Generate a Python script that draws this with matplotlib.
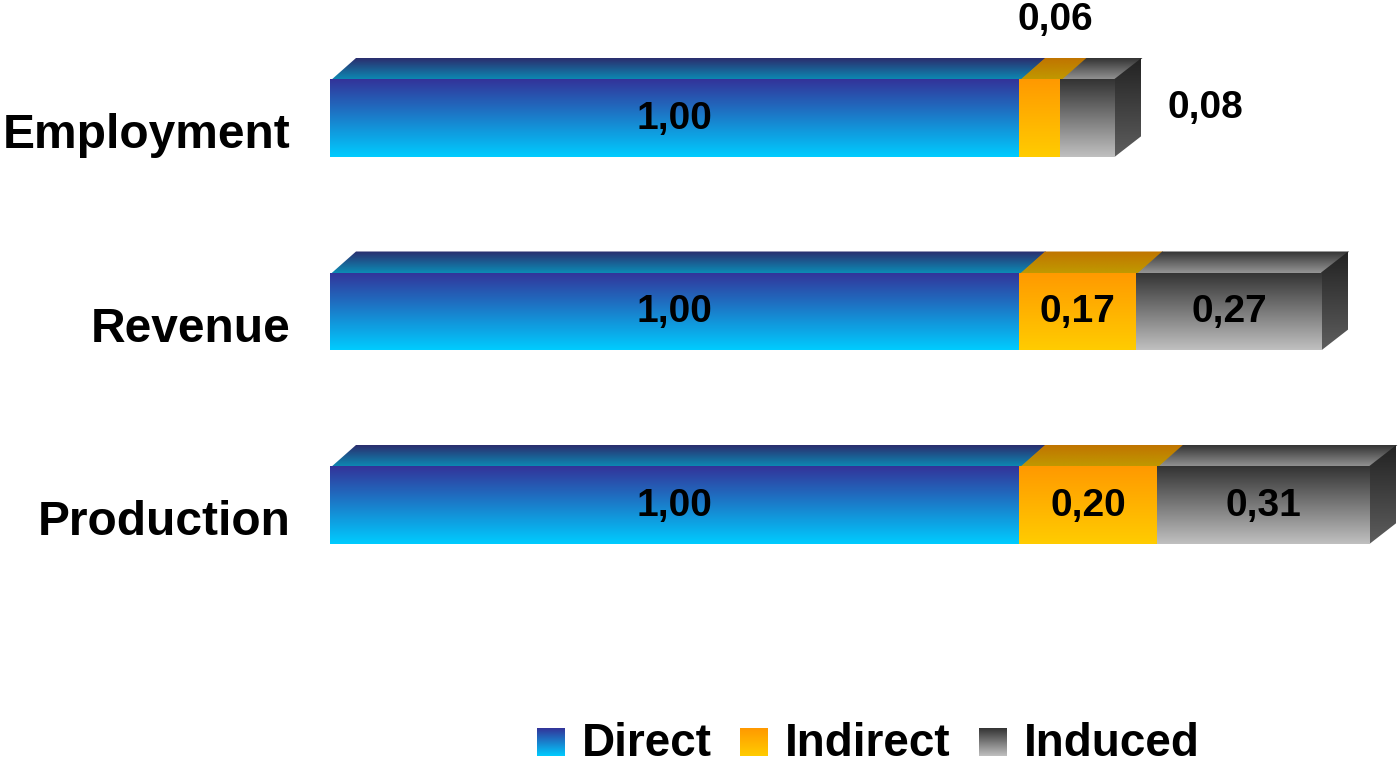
import numpy as np
import matplotlib
matplotlib.use('Agg')
import matplotlib.pyplot as plt
from matplotlib.patches import Polygon
from matplotlib.colors import to_rgb

# data
categories = ['Employment', 'Revenue', 'Production']
series = ['Direct', 'Indirect', 'Induced']
direct = [1.00, 1.00, 1.00]
indirect = [0.06, 0.17, 0.20]
induced = [0.08, 0.27, 0.31]

# gradient colours per series: front (top, bottom), top face (back, front)
front_cols = [('#333399', '#00ccff'), ('#ff9900', '#ffcc00'), ('#333333', '#c0c0c0')]
top_cols = [('#2b2d6e', '#0a90b8'), ('#c07400', '#c09c00'), ('#333333', '#9a9a9a')]
side_cols = ('#222222', '#5e5e5e')

plt.rcParams['font.family'] = ['Liberation Sans', 'DejaVu Sans']
plt.rcParams['font.weight'] = 'bold'

W, H = 1400, 766
fig = plt.figure(figsize=(W / 100, H / 100), dpi=100)
ax = fig.add_axes([0, 0, 1, 1])
ax.axis('off')

# pixel helpers (axes covers the whole figure)
X0, XS = 330, 689.0       # pixel of value 0, pixels per unit
Y0, YS = 505, 193.5       # pixel of position 0, pixels per category step
def px(p):
    return (p - X0) / XS
def py(p):
    return (Y0 - p) / YS
def dxp(d):
    return d / XS
def dyp(d):
    return d / YS

bar_h = dyp(78)
depth_x, depth_y = dxp(26), dyp(21)
ypos = [2, 1, 0]


def grad_poly(verts, c_top, c_bot, z=2):
    poly = Polygon(verts, closed=True, facecolor='none', edgecolor='none')
    ax.add_patch(poly)
    xs = [v[0] for v in verts]
    ys = [v[1] for v in verts]
    g = np.linspace(0, 1, 256)[:, None, None]
    arr = (1 - g) * np.array(to_rgb(c_top)) + g * np.array(to_rgb(c_bot))
    im = ax.imshow(arr, extent=(min(xs), max(xs), min(ys), max(ys)), origin='upper',
                   aspect='auto', interpolation='bilinear', zorder=z)
    im.set_clip_path(poly)


def fmt(v):
    return f'{v:.2f}'.replace('.', ',')


data = [direct, indirect, induced]
ov = dyp(2)  # small overlap so faces meet without seams
for i, cat in enumerate(categories):
    y = ypos[i]
    yb, yt = y - bar_h / 2, y + bar_h / 2
    left = 0.0
    for s in range(3):
        v = data[s][i]
        right = left + v
        # top face (drawn under the front face, slightly overlapping)
        grad_poly([(left, yt - ov), (right + dxp(1), yt - ov), (right + dxp(1) + depth_x, yt + depth_y),
                   (left + depth_x, yt + depth_y)], *top_cols[s], z=1)
        # front face
        grad_poly([(left, yb), (right + (dxp(1) if s < 2 else 0), yb),
                   (right + (dxp(1) if s < 2 else 0), yt), (left, yt)], *front_cols[s], z=2 + s)
        # value labels
        cx = (left + right) / 2
        if v >= 0.1:
            ax.text(cx, y - dyp(11), fmt(v), ha='center', va='baseline', fontsize=28,
                    fontweight='bold', zorder=10)
        elif s == 1:
            ax.text(cx + dxp(16), yt + dyp(49), fmt(v), ha='center', va='baseline',
                    fontsize=28, fontweight='bold', zorder=10)
        else:
            ax.text(right + dxp(52), y, fmt(v), ha='left', va='baseline', fontsize=28,
                    fontweight='bold', zorder=10)
        left = right
    # side face at the bar end
    grad_poly([(left - dxp(1), yb), (left - dxp(1), yt), (left + depth_x, yt + depth_y),
               (left + depth_x, yb + depth_y)], *side_cols, z=1)
    # category label
    ax.text(px(291), y - dyp(30), cat, ha='right', va='baseline', fontsize=34.5, fontweight='bold')

ax.set_xlim(px(0), px(W))
ax.set_ylim(py(H), py(0))

# legend along the bottom
fig.canvas.draw()
renderer = fig.canvas.get_renderer()
lx = 537
for s, name in enumerate(series):
    grad_poly([(px(lx), py(756)), (px(lx + 28), py(756)), (px(lx + 28), py(728)), (px(lx), py(728))],
              *front_cols[s])
    t = ax.text(px(lx + 45), py(756), name, ha='left', va='baseline', fontsize=33, fontweight='bold')
    bb = t.get_window_extent(renderer)
    lx = bb.x1 + 28

ax.set_xlim(px(0), px(W))
ax.set_ylim(py(H), py(0))
fig.savefig('out.png', dpi=100)
